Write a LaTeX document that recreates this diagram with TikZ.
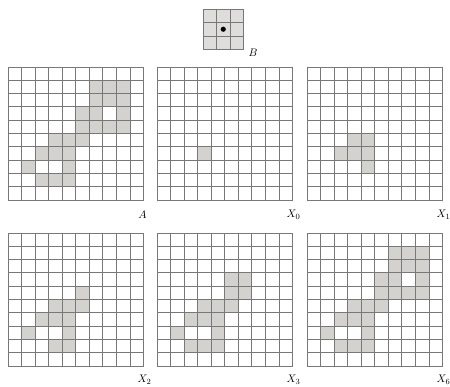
\documentclass[tikz,border=0pt]{standalone}
\usetikzlibrary{calc}
\definecolor{cellgray}{RGB}{212,210,207}
\definecolor{linegray}{RGB}{120,120,120}
\definecolor{bgray}{RGB}{222,221,219}
\tikzset{
  cellfill/.style={fill=cellgray},
  gridline/.style={draw=linegray, line width=0.9pt},
  lbl/.style={font=\fontsize{11}{13}\selectfont, inner sep=0pt},
}
\newcommand\drawgrid[4]{% #1 name, #2 x0, #3 y0, #4 list of row/col
  \begin{scope}[shift={(#2,#3)}]
    \foreach \r/\c in {#4} {\fill[cellfill] (\c*13.55,\r*13.3) rectangle ++(13.55,13.3);}
    \foreach \i in {0,...,10} {
      \draw[gridline] (\i*13.55,0) -- (\i*13.55,133);
      \draw[gridline] (0,\i*13.3) -- (135.5,\i*13.3);
    }
    \coordinate (#1-se) at (135.5,133);
  \end{scope}}
\begin{document}
\begin{tikzpicture}[x=1pt,y=-1pt]
\useasboundingbox (0,0) rectangle (450,387);
% structuring element B
\begin{scope}[shift={(203,9)}]
  \fill[bgray] (0,0) rectangle (40.5,40.5);
  \foreach \i in {0,1,2,3} {
    \draw[gridline] (\i*13.5,0) -- (\i*13.5,40.5);
    \draw[gridline] (0,\i*13.5) -- (40.5,\i*13.5);
  }
  \fill[black] (20.25,20.25) circle (2.6);
\end{scope}
\node[lbl] (lB) at (253,53) {$B$};
% A
\drawgrid{gA}{8}{67}{1/6,1/7,1/8,2/6,2/7,2/8,3/5,3/6,3/8,4/5,4/6,4/7,4/8,5/3,5/4,5/5,6/2,6/3,6/4,7/1,7/4,8/2,8/3,8/4}
\node[lbl] (lA) at ($(gA-se)+(-1,15)$) {$A$};
% X0
\drawgrid{g0}{157}{67}{6/3}
\node[lbl] (l0) at ($(g0-se)+(1,15)$) {$X_0$};
% X1
\drawgrid{g1}{307}{67}{5/3,5/4,6/2,6/3,6/4,7/4}
\node[lbl] (l1) at ($(g1-se)+(1,15)$) {$X_1$};
% X2
\drawgrid{g2}{8}{233}{4/5,5/3,5/4,5/5,6/2,6/3,6/4,7/1,7/4,8/3,8/4}
\node[lbl] (l2) at ($(g2-se)+(1,14)$) {$X_2$};
% X3
\drawgrid{g3}{157}{233}{3/5,3/6,4/5,4/6,5/3,5/4,5/5,6/2,6/3,6/4,7/1,7/4,8/2,8/3,8/4}
\node[lbl] (l3) at ($(g3-se)+(1,14)$) {$X_3$};
% X6
\drawgrid{g6}{307}{233}{1/6,1/7,1/8,2/6,2/7,2/8,3/5,3/6,3/8,4/5,4/6,4/7,4/8,5/3,5/4,5/5,6/2,6/3,6/4,7/1,7/4,8/2,8/3,8/4}
\node[lbl] (l6) at ($(g6-se)+(1,14)$) {$X_6$};
\end{tikzpicture}
\end{document}
